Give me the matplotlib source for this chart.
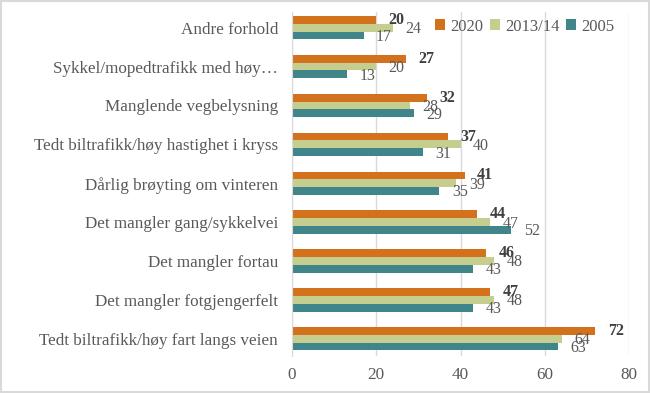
import matplotlib
matplotlib.use("Agg")
import matplotlib.pyplot as plt
import matplotlib.patches as mpatches
import numpy as np

# ── Données (de bas en haut) ─────────────────────────────────────────────────
categories = [
    "Tedt biltrafikk/høy fart langs veien",
    "Det mangler fotgjengerfelt",
    "Det mangler fortau",
    "Det mangler gang/sykkelvei",
    "Dårlig brøyting om vinteren",
    "Tedt biltrafikk/høy hastighet i kryss",
    "Manglende vegbelysning",
    "Sykkel/mopedtrafikk med høy…",
    "Andre forhold",
]
v2020 = [72, 47, 46, 44, 41, 37, 32, 27, 20]
v2013 = [64, 48, 48, 47, 39, 40, 28, 20, 24]
v2005 = [63, 43, 43, 52, 35, 31, 29, 13, 17]
series_names = ["2020", "2013/14", "2005"]
xticks = [0, 20, 40, 60, 80]

# ── Style ─────────────────────────────────────────────────────────────────────
plt.rcParams["font.family"] = ["Liberation Serif", "DejaVu Serif"]
C_ORANGE = "#D4711D"
C_GREEN  = "#C6CE8F"
C_TEAL   = "#3F8589"
C_TEXT   = "#595959"
C_GRID   = "#D9D9D9"

fig = plt.figure(figsize=(6.5, 3.93), dpi=100)
ax = fig.add_axes([0.449, 0.094, 0.519, 0.875])

y = np.arange(len(categories))
h = 0.2
series = [(v2020, C_ORANGE, +h), (v2013, C_GREEN, 0.0), (v2005, C_TEAL, -h)]
for (vals, col, off), name in zip(series, series_names):
    ax.barh(y + off, vals, height=h, color=col, label=name, zorder=2)

# Étiquettes de valeurs
for i in range(len(categories)):
    ax.annotate(str(v2020[i]), (v2020[i], y[i] + h), xytext=(9, 0),
                textcoords="offset points", ha="left", va="center",
                fontsize=11.5, fontweight="bold", color="#404040")
    ax.annotate(str(v2013[i]), (v2013[i], y[i]), xytext=(9, -1),
                textcoords="offset points", ha="left", va="center",
                fontsize=11.5, color=C_TEXT)
    ax.annotate(str(v2005[i]), (v2005[i], y[i] - h), xytext=(9, -1),
                textcoords="offset points", ha="left", va="center",
                fontsize=11.5, color=C_TEXT)

ax.set_xlim(0, 80)
ax.set_ylim(-0.445, 8.4)
ax.set_xticks(xticks)
ax.set_xticklabels([str(t) for t in xticks])
ax.set_yticks(y)
ax.set_yticklabels(categories)
ax.tick_params(axis="both", length=0, colors=C_TEXT, labelsize=12.3)
ax.tick_params(axis="y", pad=10)
ax.tick_params(axis="x", pad=8)

ax.grid(axis="x", color=C_GRID, lw=1, zorder=0)
for s in ["top", "right", "bottom"]:
    ax.spines[s].set_visible(False)
ax.spines["left"].set_color(C_GRID)
ax.spines["left"].set_zorder(3)

leg = ax.legend(loc="upper right", bbox_to_anchor=(1.0, 1.025), ncol=3,
                frameon=False, fontsize=12, handlelength=0.6,
                handleheight=0.6, handletextpad=0.3, columnspacing=0.4)
for t in leg.get_texts():
    t.set_color(C_TEXT)

# Cadre de la figure
fig.add_artist(mpatches.Rectangle((0.002, 0.003), 0.996, 0.994,
                                  transform=fig.transFigure, fill=False,
                                  edgecolor=C_GRID, lw=1.5))

fig.savefig("out.png", dpi=100)
